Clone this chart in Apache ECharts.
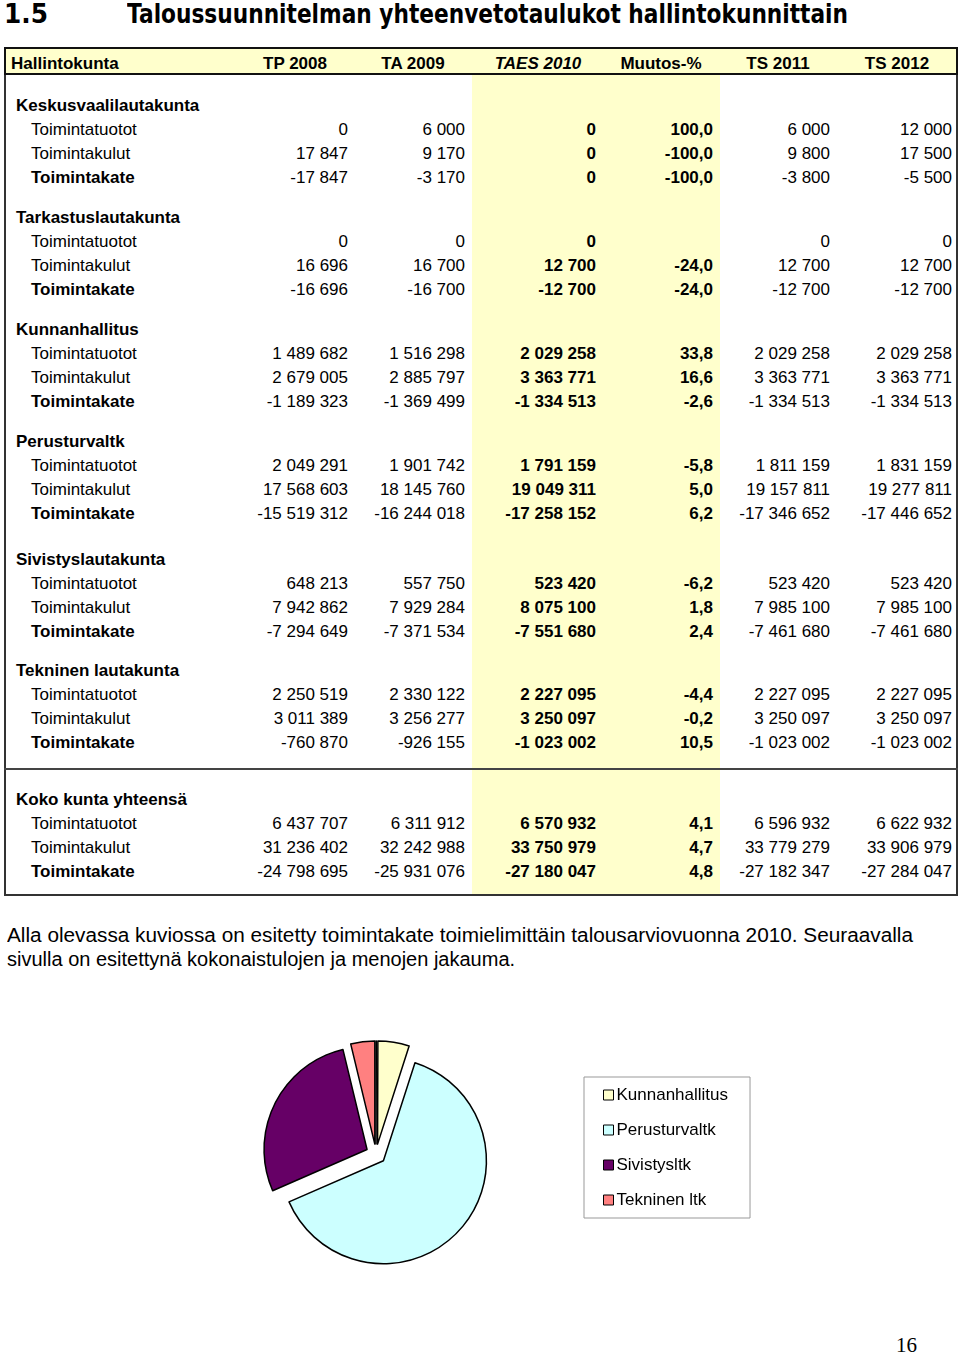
<!DOCTYPE html>
<html><head><meta charset="utf-8">
<script src="https://cdn.jsdelivr.net/npm/echarts@6/dist/echarts.min.js"></script>
<style>
html,body{margin:0;padding:0;background:#fff;}
#page{position:relative;width:960px;height:1355px;overflow:hidden;font-family:"Liberation Sans",Arial,Helvetica,sans-serif;color:#000;background:#fff;}
.t{position:absolute;white-space:nowrap;font-size:17px;line-height:20px;}
.b{font-weight:bold;}
.r{text-align:right;}
.box{position:absolute;box-sizing:border-box;}
#chart{position:absolute;left:0;top:990px;width:960px;height:330px;}
</style>
</head>
<body>
<div id="page">
  <div class="t b" id="num" style="left:4px;top:-3px;font-size:27px;line-height:34px;font-family:'DejaVu Sans',sans-serif;">1.5</div>
  <div class="t b" id="title" style="left:127px;top:-3px;font-size:27px;line-height:34px;font-family:'DejaVu Sans',sans-serif;">Taloussuunnitelman yhteenvetotaulukot hallintokunnittain</div>
  <div id="table"></div>
  <div class="t" id="p1" style="left:7px;top:923px;font-size:20px;line-height:24px;">Alla olevassa kuviossa on esitetty toimintakate toimielimittäin talousarviovuonna 2010. Seuraavalla</div>
  <div class="t" id="p2" style="left:7px;top:947px;font-size:20px;line-height:24px;">sivulla on esitettynä kokonaistulojen ja menojen jakauma.</div>
  <div id="chart"></div>
  <div class="t" style="left:896px;top:1333px;font-size:21px;line-height:24px;font-family:'Liberation Serif','Times New Roman',serif;">16</div>
</div>
<script>
// ---------- DATA ----------
const headers = ["Hallintokunta", "TP 2008", "TA 2009", "TAES 2010", "Muutos-%", "TS 2011", "TS 2012"];
const sections = ["Keskusvaalilautakunta", "Tarkastuslautakunta", "Kunnanhallitus", "Perusturvaltk", "Sivistyslautakunta", "Tekninen lautakunta", "Koko kunta yhteensä"];
const rowLabels = ["Toimintatuotot", "Toimintakulut", "Toimintakate"];
// values per column: for each section [tuotot, kulut, kate]
const tp2008 = [0, 17847, -17847, 0, 16696, -16696, 1489682, 2679005, -1189323, 2049291, 17568603, -15519312, 648213, 7942862, -7294649, 2250519, 3011389, -760870, 6437707, 31236402, -24798695];
const ta2009 = [6000, 9170, -3170, 0, 16700, -16700, 1516298, 2885797, -1369499, 1901742, 18145760, -16244018, 557750, 7929284, -7371534, 2330122, 3256277, -926155, 6311912, 32242988, -25931076];
const taes2010 = [0, 0, 0, 0, 12700, -12700, 2029258, 3363771, -1334513, 1791159, 19049311, -17258152, 523420, 8075100, -7551680, 2227095, 3250097, -1023002, 6570932, 33750979, -27180047];
const muutos = [100.0, -100.0, -100.0, null, -24.0, -24.0, 33.8, 16.6, -2.6, -5.8, 5.0, 6.2, -6.2, 1.8, 2.4, -4.4, -0.2, 10.5, 4.1, 4.7, 4.8];
const ts2011 = [6000, 9800, -3800, 0, 12700, -12700, 2029258, 3363771, -1334513, 1811159, 19157811, -17346652, 523420, 7985100, -7461680, 2227095, 3250097, -1023002, 6596932, 33779279, -27182347];
const ts2012 = [12000, 17500, -5500, 0, 12700, -12700, 2029258, 3363771, -1334513, 1831159, 19277811, -17446652, 523420, 7985100, -7461680, 2227095, 3250097, -1023002, 6622932, 33906979, -27284047];

// pie: toimintakate TAES 2010
const pieNames = ["Tarkastuslautakunta", "Kunnanhallitus", "Perusturvaltk", "Sivistysltk", "Tekninen ltk"];
const pieValues = [12700, 1334513, 17258152, 7551680, 1023002];
const pieColors = ["#000000", "#FFFFCC", "#CCFFFF", "#660066", "#FF8080"];
const legendNames = ["Kunnanhallitus", "Perusturvaltk", "Sivistysltk", "Tekninen ltk"];

// ---------- LAYOUT ----------
const sectionY = [106, 218, 330, 442, 560, 671, 800];
const colRight = [348, 465, 596, 713, 830, 952];
const headCenter = [295, 413, 538, 661, 778, 897];
const columns = [tp2008, ta2009, taes2010, muutos, ts2011, ts2012];

function fmtInt(v) {
  const s = Math.abs(v).toString().replace(/\B(?=(\d{3})+(?!\d))/g, " ");
  return (v < 0 ? "-" : "") + s;
}
function fmtPct(v) {
  if (v === null) return "";
  return v.toFixed(1).replace(".", ",");
}

const tbl = document.getElementById("table");
function add(html) { tbl.insertAdjacentHTML("beforeend", html); }

// boxes
add('<div class="box" style="left:472px;top:74px;width:248px;height:821px;background:#FFFFCC;"></div>');
add('<div class="box" style="left:4px;top:47px;width:954px;height:849px;border:2px solid #333;"></div>');
add('<div class="box" style="left:4px;top:47px;width:954px;height:28px;background:#FFFFCC;border:2px solid #111;"></div>');
add('<div class="box" style="left:4px;top:768px;width:954px;height:2px;background:#444;"></div>');

// header
add('<div class="t b" style="left:11px;top:54px;">' + headers[0] + '</div>');
for (let c = 0; c < 6; c++) {
  const it = c === 2 ? "font-style:italic;" : "";
  add('<div class="t b" style="left:' + (headCenter[c] - 60) + 'px;width:120px;text-align:center;top:54px;' + it + '">' + headers[c + 1] + '</div>');
}

// body
for (let s = 0; s < sections.length; s++) {
  const y0 = sectionY[s];
  add('<div class="t b" style="left:16px;top:' + (y0 - 10) + 'px;">' + sections[s] + '</div>');
  for (let r = 0; r < 3; r++) {
    const y = y0 + 24 * (r + 1);
    const bold = r === 2 ? " b" : "";
    add('<div class="t' + bold + '" style="left:31px;top:' + (y - 10) + 'px;">' + rowLabels[r] + '</div>');
    for (let c = 0; c < 6; c++) {
      const v = columns[c][s * 3 + r];
      const txt = c === 3 ? fmtPct(v) : fmtInt(v);
      const bc = (c === 2 || c === 3) ? " b" : "";
      add('<div class="t r' + bc + '" style="left:' + (colRight[c] - 150) + 'px;width:150px;top:' + (y - 10) + 'px;">' + txt + '</div>');
    }
  }
}

function fit(id, w) {
  const el = document.getElementById(id);
  const cw = el.getBoundingClientRect().width;
  el.style.transformOrigin = "left center";
  el.style.transform = "scaleX(" + (w / cw) + ")";
}
fit("title", 721);
fit("num", 44);
fit("p1", 906);

// ---------- PIE ----------
const chart = echarts.init(document.getElementById("chart"), null, { renderer: "canvas" });
chart.setOption({
  animation: false,
  backgroundColor: "transparent",
  legend: {
    data: legendNames,
    orient: "vertical",
    left: 584,
    top: 87,
    icon: "rect",
    itemWidth: 10,
    itemHeight: 10,
    itemGap: 15,
    selectedMode: false,
    padding: [8, 22, 8, 19],
    borderColor: "#999",
    borderWidth: 1,
    backgroundColor: "#fff",
    itemStyle: { borderColor: "#000", borderWidth: 1 },
    textStyle: { fontFamily: "Liberation Sans, Arial, sans-serif", fontSize: 17, lineHeight: 20, color: "#000", padding: [0, 0, 0, -2] }
  },
  series: [{
    type: "pie",
    center: [376, 164],
    radius: [0, 103],
    startAngle: 90,
    clockwise: true,
    selectedMode: "multiple",
    selectedOffset: 10,
    avoidLabelOverlap: false,
    label: { show: false },
    labelLine: { show: false },
    emphasis: { disabled: true },
    itemStyle: { borderColor: "#000", borderWidth: 1.5 },
    select: { itemStyle: { borderColor: "#000", borderWidth: 1.5 } },
    data: pieNames.map((n, i) => ({
      name: n,
      value: pieValues[i],
      selected: true,
      itemStyle: { color: pieColors[i] },
      select: { itemStyle: { color: pieColors[i], borderColor: "#000", borderWidth: 1.5 } }
    }))
  }]
});
</script>
</body></html>
